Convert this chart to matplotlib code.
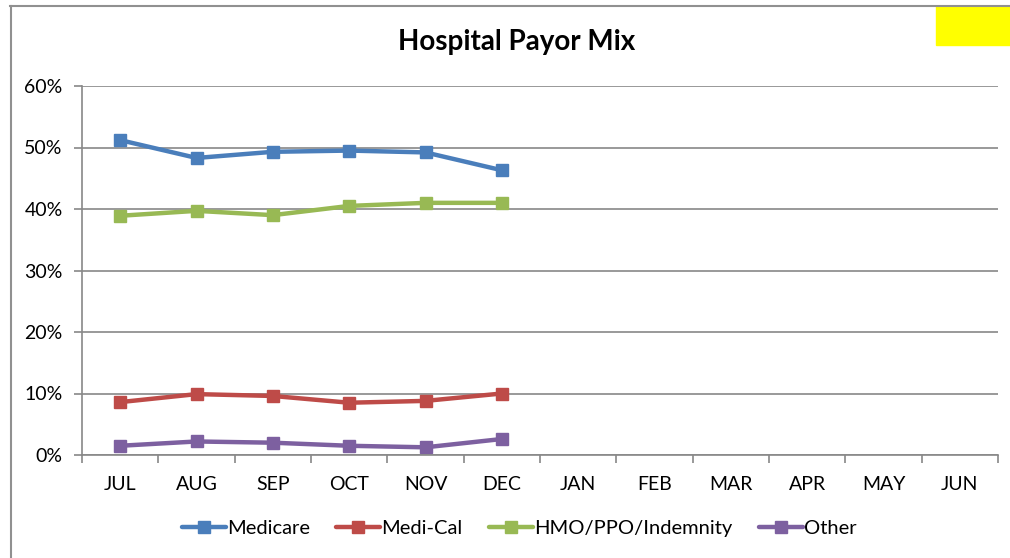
import numpy as np
import matplotlib
matplotlib.use("Agg")
import matplotlib.pyplot as plt
from matplotlib.lines import Line2D
from matplotlib.patches import Rectangle
from matplotlib.ticker import FuncFormatter, FixedLocator

plt.rcParams['font.family'] = ['Lato', 'DejaVu Sans']

months = ["JUL", "AUG", "SEP", "OCT", "NOV", "DEC", "JAN", "FEB", "MAR", "APR", "MAY", "JUN"]
medicare = [51.2, 48.3, 49.3, 49.5, 49.2, 46.3]
medi_cal = [8.6, 9.9, 9.6, 8.5, 8.8, 10.0]
hmo = [38.9, 39.7, 39.0, 40.5, 41.0, 41.0]
other = [1.5, 2.2, 2.0, 1.5, 1.25, 2.6]

series = [("Medicare", medicare, "#4A7EBB"),
          ("Medi-Cal", medi_cal, "#BE4B48"),
          ("HMO/PPO/Indemnity", hmo, "#98B954"),
          ("Other", other, "#7D60A0")]

W, H = 1010, 558
fig = plt.figure(figsize=(W / 100, H / 100), dpi=100)
ax = fig.add_axes([82 / W, (H - 455) / H, 916 / W, (455 - 86) / H])

grid_c = "#888888"
x = np.arange(len(medicare))
for name, vals, col in series:
    ax.plot(x, np.array(vals) / 100, color=col, lw=3.2, marker="s", ms=9,
            markeredgecolor=col, label=name, solid_capstyle="round")

ax.set_xlim(-0.5, 11.5)
ax.set_ylim(0, 0.6)
ax.set_yticks(np.arange(0, 0.61, 0.1))
ax.yaxis.set_major_formatter(FuncFormatter(lambda v, p: "%d%%" % round(v * 100)))
ax.grid(axis="y", color=grid_c, lw=1.2)
ax.set_axisbelow(True)

ax.set_xticks(np.arange(12))
ax.set_xticklabels(months)
ax.xaxis.set_minor_locator(FixedLocator(np.arange(-0.5, 12, 1)))
ax.tick_params(axis="x", which="major", length=0, pad=15, labelsize=14)
ax.tick_params(axis="x", which="minor", length=6, color=grid_c, width=1.2)
ax.tick_params(axis="y", length=6, color=grid_c, width=1.2, pad=8, labelsize=14)

for s in ["top", "right"]:
    ax.spines[s].set_visible(False)
for s in ["left", "bottom"]:
    ax.spines[s].set_color(grid_c)
    ax.spines[s].set_linewidth(1.2)

fig.text(517 / W, 1 - 42 / H, "Hospital Payor Mix", ha="center", va="center",
         fontsize=20, fontweight="bold")

fig.legend(loc="center", bbox_to_anchor=(519 / W, 1 - 528 / H), ncol=4,
           frameon=False, fontsize=14.5, handlelength=2.2, handletextpad=0.05,
           columnspacing=1.3)

# chart frame and yellow box
fig.add_artist(Line2D([10 / W, 1], [1 - 5.5 / H] * 2, color="#909090", lw=1.5))
fig.add_artist(Line2D([10.5 / W] * 2, [0, 1 - 5.5 / H], color="#909090", lw=1.5))
fig.add_artist(Rectangle((936 / W, 1 - 45 / H), 74 / W, 39 / H,
                         color="#FFFF00", transform=fig.transFigure))

fig.savefig("out.png", dpi=100)
